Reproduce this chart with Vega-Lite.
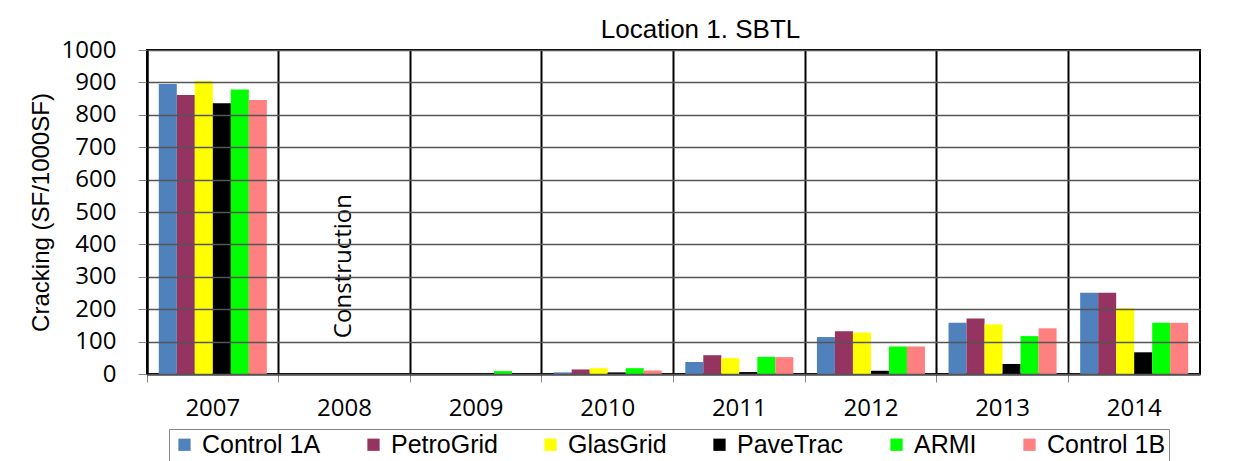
{
  "$schema": "https://vega.github.io/schema/vega-lite/v6.json",
  "autosize": "none",
  "width": 1053,
  "height": 324,
  "padding": {"left": 147, "top": 50, "right": 35, "bottom": 87},
  "background": "white",
  "title": {
    "text": "Location 1. SBTL",
    "font": "Liberation Sans",
    "fontSize": 26,
    "fontWeight": "normal",
    "color": "black",
    "offset": -5,
    "dx": 27
  },
  "config": {
    "view": {"stroke": "black", "strokeWidth": 2}
  },
  "encoding": {
    "y": {
      "field": "value",
      "type": "quantitative",
      "scale": {"domain": [0, 1000], "nice": false},
      "axis": {
        "title": "Cracking (SF/1000SF)",
        "titleFont": "Liberation Sans",
        "titleFontSize": 24,
        "titleFontWeight": "normal",
        "titleColor": "black",
        "titlePadding": 8,
        "values": [0, 100, 200, 300, 400, 500, 600, 700, 800, 900, 1000],
        "format": "d",
        "labelOverlap": false,
        "grid": true,
        "gridColor": "#555555",
        "gridWidth": 1.5,
        "zindex": 1,
        "domainColor": "black",
        "domainWidth": 2,
        "tickColor": "#888888",
        "tickSize": 9,
        "labelFont": "Open Sans",
        "labelFontSize": 24,
        "labelColor": "black",
        "labelPadding": 22
      }
    }
  },
  "layer": [
    {
      "data": {
        "values": [
          {"year": "2007", "product": "Control 1A", "value": 895},
          {"year": "2007", "product": "PetroGrid", "value": 861},
          {"year": "2007", "product": "GlasGrid", "value": 904},
          {"year": "2007", "product": "PaveTrac", "value": 836},
          {"year": "2007", "product": "ARMI", "value": 878},
          {"year": "2007", "product": "Control 1B", "value": 846},
          {"year": "2008", "product": "Control 1A", "value": 0},
          {"year": "2008", "product": "PetroGrid", "value": 0},
          {"year": "2008", "product": "GlasGrid", "value": 0},
          {"year": "2008", "product": "PaveTrac", "value": 0},
          {"year": "2008", "product": "ARMI", "value": 0},
          {"year": "2008", "product": "Control 1B", "value": 0},
          {"year": "2009", "product": "Control 1A", "value": 0},
          {"year": "2009", "product": "PetroGrid", "value": 0},
          {"year": "2009", "product": "GlasGrid", "value": 0},
          {"year": "2009", "product": "PaveTrac", "value": 0},
          {"year": "2009", "product": "ARMI", "value": 9},
          {"year": "2009", "product": "Control 1B", "value": 0},
          {"year": "2010", "product": "Control 1A", "value": 5},
          {"year": "2010", "product": "PetroGrid", "value": 14},
          {"year": "2010", "product": "GlasGrid", "value": 18},
          {"year": "2010", "product": "PaveTrac", "value": 5},
          {"year": "2010", "product": "ARMI", "value": 18},
          {"year": "2010", "product": "Control 1B", "value": 11},
          {"year": "2011", "product": "Control 1A", "value": 37},
          {"year": "2011", "product": "PetroGrid", "value": 58},
          {"year": "2011", "product": "GlasGrid", "value": 49},
          {"year": "2011", "product": "PaveTrac", "value": 6},
          {"year": "2011", "product": "ARMI", "value": 53},
          {"year": "2011", "product": "Control 1B", "value": 52},
          {"year": "2012", "product": "Control 1A", "value": 114},
          {"year": "2012", "product": "PetroGrid", "value": 132},
          {"year": "2012", "product": "GlasGrid", "value": 128},
          {"year": "2012", "product": "PaveTrac", "value": 10},
          {"year": "2012", "product": "ARMI", "value": 85},
          {"year": "2012", "product": "Control 1B", "value": 85},
          {"year": "2013", "product": "Control 1A", "value": 158},
          {"year": "2013", "product": "PetroGrid", "value": 171},
          {"year": "2013", "product": "GlasGrid", "value": 153},
          {"year": "2013", "product": "PaveTrac", "value": 31},
          {"year": "2013", "product": "ARMI", "value": 117},
          {"year": "2013", "product": "Control 1B", "value": 141},
          {"year": "2014", "product": "Control 1A", "value": 251},
          {"year": "2014", "product": "PetroGrid", "value": 251},
          {"year": "2014", "product": "GlasGrid", "value": 204},
          {"year": "2014", "product": "PaveTrac", "value": 67},
          {"year": "2014", "product": "ARMI", "value": 158},
          {"year": "2014", "product": "Control 1B", "value": 158}
        ]
      },
      "mark": {"type": "bar"},
      "encoding": {
        "x": {
          "field": "year",
          "type": "nominal",
          "scale": {"paddingInner": 0, "paddingOuter": 0},
          "axis": {
            "title": null,
            "labelAngle": 0,
            "bandPosition": 0,
            "grid": true,
            "gridColor": "black",
            "gridWidth": 2,
            "domainColor": "black",
            "domainWidth": 2,
            "tickColor": "#888888",
            "tickSize": 8,
            "labelFont": "Open Sans",
            "labelFontSize": 24,
            "labelColor": "black",
            "labelPadding": 14
          }
        },
        "xOffset": {
          "field": "product",
          "type": "nominal",
          "sort": ["Control 1A", "PetroGrid", "GlasGrid", "PaveTrac", "ARMI", "Control 1B"],
          "scale": {"paddingInner": 0, "paddingOuter": 0.655}
        },
        "color": {
          "field": "product",
          "type": "nominal",
          "scale": {
            "domain": ["Control 1A", "PetroGrid", "GlasGrid", "PaveTrac", "ARMI", "Control 1B"],
            "range": ["#4F81BD", "#953461", "#FFFF00", "#000000", "#00FF00", "#FF8080"]
          },
          "legend": {
            "title": null,
            "orient": "none",
            "legendX": 22,
            "legendY": 379,
            "direction": "horizontal",
            "columns": 6,
            "columnPadding": 40,
            "symbolType": "square",
            "symbolSize": 150,
            "symbolStrokeWidth": 0,
            "symbolOffset": 0,
            "labelOffset": 5,
            "labelFont": "Liberation Sans",
            "labelFontSize": 25,
            "labelColor": "black",
            "padding": 3,
            "strokeColor": "#888888",
            "fillColor": "white"
          }
        }
      }
    },
    {
      "data": {"values": [{"year": "2008", "value": 333, "label": "Construction"}]},
      "mark": {
        "type": "text",
        "angle": 270,
        "align": "center",
        "baseline": "middle",
        "font": "Open Sans",
        "fontSize": 24,
        "color": "black"
      },
      "encoding": {
        "x": {"field": "year", "type": "nominal"},
        "text": {"field": "label"}
      }
    }
  ]
}
